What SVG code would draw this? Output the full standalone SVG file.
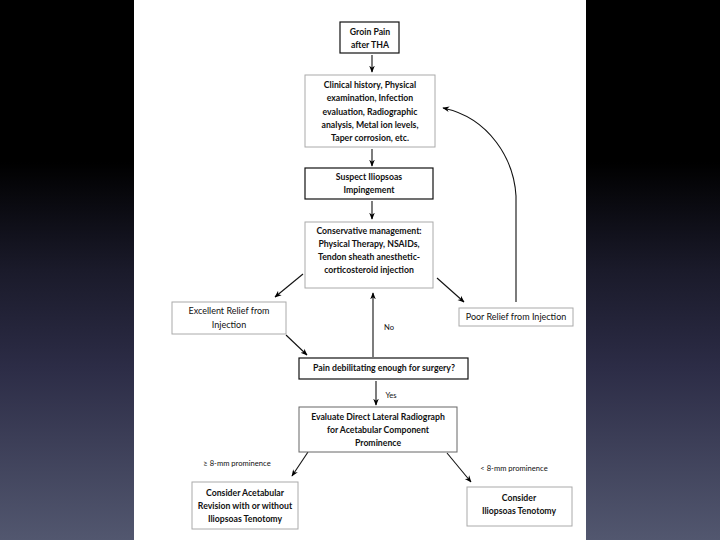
<svg xmlns="http://www.w3.org/2000/svg" width="720" height="540" viewBox="0 0 720 540">
<defs>
<linearGradient id="bg" x1="0" y1="0" x2="0" y2="1">
<stop offset="0" stop-color="#000"/>
<stop offset="0.3" stop-color="#000"/>
<stop offset="0.5" stop-color="#1a1a2a"/>
<stop offset="0.68" stop-color="#2c2c46"/>
<stop offset="1" stop-color="#52576f"/>
</linearGradient>
<marker id="ah" viewBox="0 0 10 10" refX="9" refY="5" markerWidth="7" markerHeight="7" markerUnits="userSpaceOnUse" orient="auto">
<path d="M0,1 L10,5 L0,9 L3,5 Z" fill="#000"/>
</marker>
<style>
.dk{fill:#fff;stroke:#111;stroke-width:1.2}
.lt{fill:#fff;stroke:#aaa;stroke-width:1}
text{font-family:Lato,"Liberation Sans",sans-serif;font-size:8.7px;font-weight:bold;fill:#111;text-anchor:middle}
.sm{font-size:7.6px;font-weight:normal}
.rg{font-size:9px;font-weight:normal}
.cn{fill:none;stroke:#111;stroke-width:1.1}
</style>
</defs>
<rect width="720" height="540" fill="url(#bg)"/>
<rect x="134" y="0" width="452" height="540" fill="#fff"/>

<g id="connectors">
<line class="cn" x1="372" y1="55" x2="372" y2="72" marker-end="url(#ah)"/>
<line class="cn" x1="372" y1="149" x2="372" y2="166" marker-end="url(#ah)"/>
<line class="cn" x1="372" y1="201" x2="372" y2="219" marker-end="url(#ah)"/>
<line class="cn" x1="303" y1="274" x2="275" y2="297" marker-end="url(#ah)"/>
<line class="cn" x1="437" y1="278" x2="464" y2="302" marker-end="url(#ah)"/>
<path class="cn" d="M516,302 L516,196 C514,160 490,118 443,108" marker-end="url(#ah)"/>
<line class="cn" x1="286" y1="335" x2="307" y2="355" marker-end="url(#ah)"/>
<line class="cn" x1="373" y1="357" x2="373" y2="293" marker-end="url(#ah)"/>
<line class="cn" x1="376" y1="381" x2="376" y2="405" marker-end="url(#ah)"/>
<line class="cn" x1="308" y1="452" x2="292" y2="476" marker-end="url(#ah)"/>
<line class="cn" x1="447" y1="453" x2="471" y2="482" marker-end="url(#ah)"/>
<text class="sm" x="389" y="330">No</text>
<text class="sm" x="391" y="398">Yes</text>
<text class="sm" x="237" y="466">≥ 8-mm prominence</text>
<text class="sm" x="514" y="471">&lt; 8-mm prominence</text>
</g>

<g id="groin">
<rect class="dk" x="340" y="22" width="59" height="31"/>
<text x="370" y="35">Groin Pain</text>
<text x="370" y="48">after THA</text>
</g>

<g id="clinical">
<rect class="lt" x="305" y="75" width="130" height="72"/>
<text x="370" y="88">Clinical history, Physical</text>
<text x="370" y="101">examination, Infection</text>
<text x="370" y="115">evaluation, Radiographic</text>
<text x="370" y="128">analysis, Metal ion levels,</text>
<text x="370" y="141">Taper corrosion, etc.</text>
</g>

<g id="suspect">
<rect class="dk" x="305" y="168" width="128" height="31"/>
<text x="369" y="180">Suspect Iliopsoas</text>
<text x="369" y="193">Impingement</text>
</g>

<g id="conservative">
<rect class="lt" x="305" y="222" width="128" height="66"/>
<text x="369" y="234">Conservative management:</text>
<text x="369" y="247">Physical Therapy, NSAIDs,</text>
<text x="369" y="260">Tendon sheath anesthetic-</text>
<text x="369" y="273">corticosteroid injection</text>
</g>

<g id="excellent">
<rect class="lt" x="172" y="302" width="114" height="32"/>
<text class="rg" x="229" y="314">Excellent Relief from</text>
<text class="rg" x="229" y="328">Injection</text>
</g>

<g id="poor">
<rect class="lt" x="459" y="308" width="114" height="18"/>
<text class="rg" x="516" y="320">Poor Relief from Injection</text>
</g>

<g id="pain">
<rect class="dk" x="299" y="358" width="169" height="21"/>
<text x="384" y="371">Pain debilitating enough for surgery?</text>
</g>

<g id="evaluate">
<rect class="lt" x="299" y="407" width="158" height="45" style="stroke:#666"/>
<text x="378" y="420">Evaluate Direct Lateral Radiograph</text>
<text x="378" y="433">for Acetabular Component</text>
<text x="378" y="446">Prominence</text>
</g>

<g id="revision">
<rect class="lt" x="192" y="482" width="106" height="47"/>
<text x="245" y="496">Consider Acetabular</text>
<text x="245" y="509">Revision with or without</text>
<text x="245" y="522">Iliopsoas Tenotomy</text>
</g>

<g id="tenotomy">
<rect class="lt" x="467" y="487" width="105" height="39"/>
<text x="519" y="501">Consider</text>
<text x="519" y="514">Iliopsoas Tenotomy</text>
</g>
</svg>
